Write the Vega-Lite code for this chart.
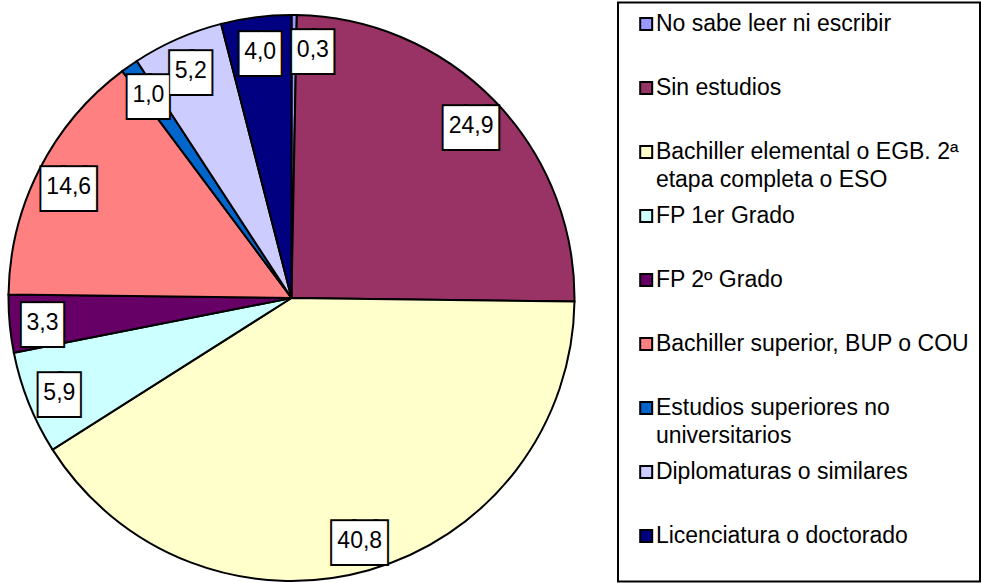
{
  "$schema": "https://vega.github.io/schema/vega-lite/v6.json",
  "width": 981,
  "height": 583,
  "autosize": {"type": "none"},
  "padding": 0,
  "background": "white",
  "config": {
    "view": {"stroke": null},
    "locale": {"number": {"decimal": ",", "thousands": ".", "grouping": [3], "currency": ["", " €"]}},
    "style": {"guide-label": {"lineHeight": 28}},
    "legend": {"strokeWidth": 2}
  },
  "data": {
    "values": [
      {"ord": 1, "cat": "No sabe leer ni escribir", "value": 0.3},
      {"ord": 2, "cat": "Sin estudios", "value": 24.9},
      {"ord": 3, "cat": "Bachiller elemental o EGB. 2ª|etapa completa o ESO", "value": 40.8},
      {"ord": 4, "cat": "FP 1er Grado", "value": 5.9},
      {"ord": 5, "cat": "FP 2º Grado", "value": 3.3},
      {"ord": 6, "cat": "Bachiller superior, BUP o COU", "value": 14.6},
      {"ord": 7, "cat": "Estudios superiores no|universitarios", "value": 1.0},
      {"ord": 8, "cat": "Diplomaturas o similares", "value": 5.2},
      {"ord": 9, "cat": "Licenciatura o doctorado", "value": 4.0}
    ]
  },
  "encoding": {
    "theta": {"field": "value", "type": "quantitative", "stack": true},
    "order": {"field": "ord", "type": "quantitative"}
  },
  "layer": [
    {
      "mark": {"type": "arc", "outerRadius": 283, "x": 291.5, "y": 298, "stroke": "black", "strokeWidth": 2},
      "encoding": {
        "color": {
          "field": "cat",
          "type": "nominal",
          "scale": {
            "domain": [
              "No sabe leer ni escribir",
              "Sin estudios",
              "Bachiller elemental o EGB. 2ª|etapa completa o ESO",
              "FP 1er Grado",
              "FP 2º Grado",
              "Bachiller superior, BUP o COU",
              "Estudios superiores no|universitarios",
              "Diplomaturas o similares",
              "Licenciatura o doctorado"
            ],
            "range": ["#9999FF", "#993366", "#FFFFCC", "#CCFFFF", "#660066", "#FF8080", "#0066CC", "#CCCCFF", "#000080"]
          },
          "legend": {
            "orient": "none",
            "legendX": 618,
            "legendY": 2.5,
            "title": " ",
            "titleOrient": "bottom",
            "titleFontSize": 2,
            "titlePadding": 21,
            "strokeColor": "black",
            "padding": 10,
            "symbolType": "square",
            "symbolSize": 144,
            "symbolStrokeColor": "black",
            "symbolStrokeWidth": 2,
            "symbolOffset": 6.7,
            "labelOffset": -1.8,
            "labelFont": "Liberation Sans",
            "labelFontSize": 23,
            "labelColor": "black",
            "labelLimit": 500,
            "rowPadding": 12,
            "labelExpr": "indexof(datum.label, '|') >= 0 ? split(datum.label, '|') : (datum.label == 'Licenciatura o doctorado' ? datum.label : [datum.label, ' '])"
          }
        }
      }
    },
    {
      "mark": {"type": "text", "x": 291.5, "y": 300, "radius": 250, "font": "DejaVu Sans Mono", "fontSize": 36, "fill": "black", "stroke": "black", "strokeWidth": 4, "strokeJoin": "miter", "align": "center", "baseline": "middle", "dy": 3, "dx": {"expr": "(datum.value < 0.5 ? 19 : 0) + (datum.value >= 10 ? 5.4 : 1.4)"}},
      "encoding": {
        "detail": {"field": "cat", "type": "nominal"},
        "text": {"condition": {"test": "datum.value >= 10", "value": "██▌"}, "value": "█▉"}
      }
    },
    {
      "mark": {"type": "text", "x": 291.5, "y": 300, "radius": 250, "font": "DejaVu Sans Mono", "fontSize": 36, "fill": "white", "align": "center", "baseline": "middle", "dy": 3, "dx": {"expr": "(datum.value < 0.5 ? 19 : 0) + (datum.value >= 10 ? 5.4 : 1.4)"}},
      "encoding": {
        "detail": {"field": "cat", "type": "nominal"},
        "text": {"condition": {"test": "datum.value >= 10", "value": "██▌"}, "value": "█▉"}
      }
    },
    {
      "mark": {"type": "text", "x": 291.5, "y": 300, "radius": 250, "font": "Liberation Sans", "fontSize": 23, "fill": "black", "align": "center", "baseline": "middle", "dx": {"expr": "datum.value < 0.5 ? 19 : 0"}},
      "encoding": {
        "detail": {"field": "cat", "type": "nominal"},
        "text": {"field": "value", "type": "quantitative", "format": ".1f"}
      }
    }
  ]
}
